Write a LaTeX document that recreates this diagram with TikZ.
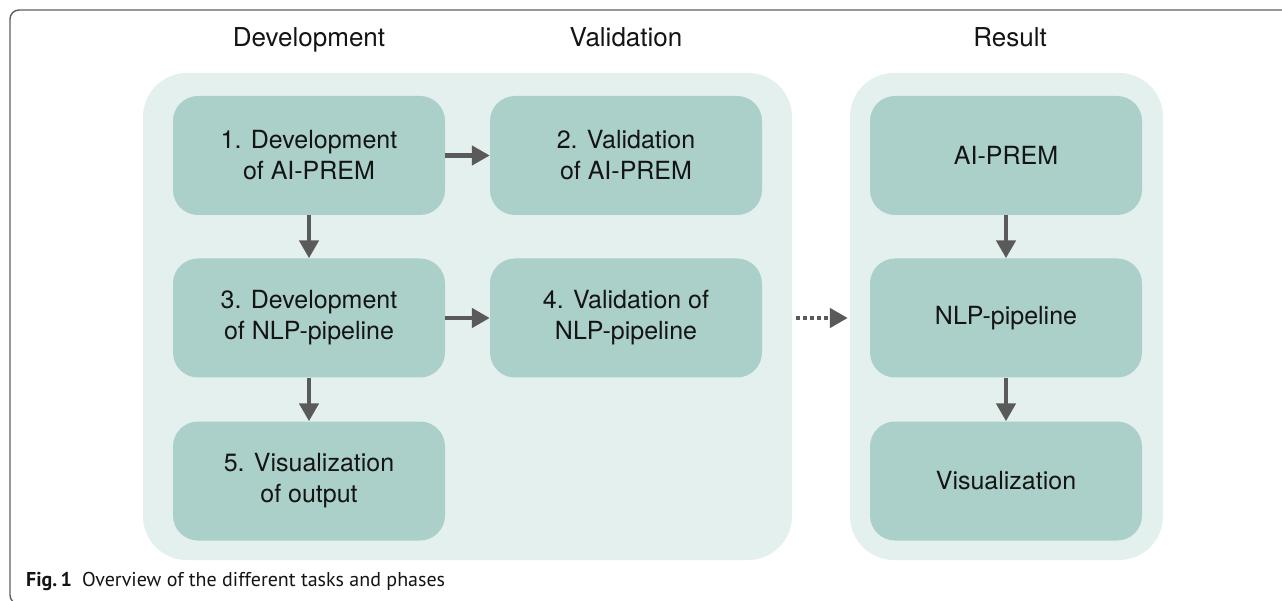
\documentclass[tikz,border=0pt]{standalone}
\usepackage{fontspec}
\setmainfont{TeX Gyre Heros}
\newfontfamily\capfont{PT Sans}
\usetikzlibrary{arrows.meta}
\definecolor{panelbg}{HTML}{E4F0EE}
\definecolor{boxbg}{HTML}{ABCFC9}
\definecolor{arrowcol}{HTML}{5A5A5A}
\definecolor{textcol}{HTML}{141414}
\definecolor{framecol}{HTML}{5F5F5F}
\tikzset{
  panel/.style={fill=panelbg, draw=none, rounded corners=44pt, inner sep=0pt},
  taskbox/.style={fill=boxbg, draw=none, rounded corners=25pt, minimum width=272pt,
    minimum height=119pt, inner sep=0pt, align=center, text=textcol,
    font=\fontsize{25}{31}\selectfont},
  phasetitle/.style={text=textcol, font=\fontsize{26}{30}\selectfont, inner sep=0pt, anchor=base},
  flow/.style={draw=arrowcol, line width=4.5pt, -{Triangle[length=18pt,width=19pt]}, arrowcol},
  dotflow/.style={draw=arrowcol, line width=4.5pt, dash pattern=on 4pt off 3pt,
    -{Triangle[length=18pt,width=19pt]}, arrowcol},
}
\begin{document}
\begin{tikzpicture}[x=1pt,y=-1pt]
\useasboundingbox (0,0) rectangle (1282,601);
\clip (0,0) rectangle (1282,601);
\fill[white] (0,0) rectangle (1282,601);
% frame
\draw[framecol, line width=1.4pt, rounded corners=9pt] (1300,10) -- (10,10) -- (10,604) -- (40,604);
% titles
\node[phasetitle] (tdev) at (309,46.5) {Development};
\node[phasetitle] (tval) at (626,46.5) {Validation};
\node[phasetitle] (tres) at (1010,46.5) {Result};
% panels
\node[panel, minimum width=649pt, minimum height=487pt] (lp) at (467.5,316.5) {};
\node[panel, minimum width=313pt, minimum height=487pt] (rp) at (1006.5,316.5) {};
% boxes
\node[taskbox] (b1) at (309,155.5) {1. Development\\of AI-PREM};
\node[taskbox] (b2) at (626,155.5) {2. Validation\\of AI-PREM};
\node[taskbox] (b3) at (309,318) {3. Development\\of NLP-pipeline};
\node[taskbox] (b4) at (626,318) {4. Validation of\\NLP-pipeline};
\node[taskbox] (b5) at (309,481) {5. Visualization\\of output};
\node[taskbox] (r1) at (1006,155.5) {AI-PREM};
\node[taskbox] (r2) at (1006,318) {NLP-pipeline};
\node[taskbox] (r3) at (1006,481) {Visualization};
% arrows
\draw[flow] (b1) -- (b2);
\draw[flow] (b3) -- (b4);
\draw[flow] (b1) -- (b3);
\draw[flow] (b3) -- (b5);
\draw[flow] (r1) -- (r2);
\draw[flow] (r2) -- (r3);
\coordinate (ds) at ([xshift=4pt]lp.east |- b4);
\coordinate (de) at ([xshift=-2pt]rp.west |- b4);
\draw[dotflow] (ds) -- (de);
% caption
\node[anchor=base west, inner sep=0pt, text=textcol, font=\capfont\fontsize{20}{22}\selectfont] (cap) at (26,586)
  {\textbf{Fig.\,1}\hspace{10pt}Overview of the different tasks and phases};
\end{tikzpicture}
\end{document}
